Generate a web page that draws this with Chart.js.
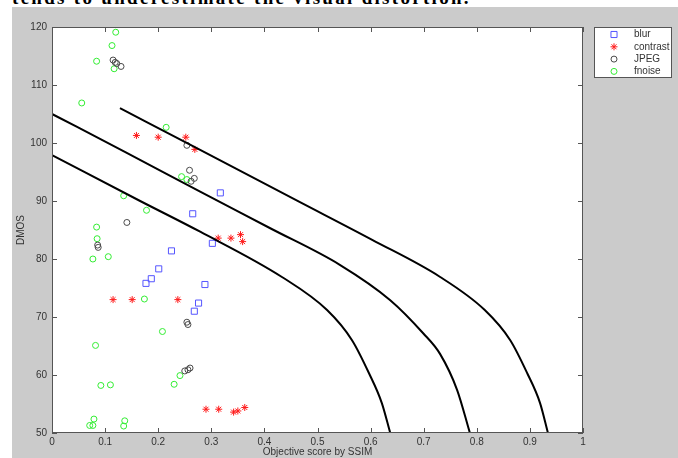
<!DOCTYPE html>
<html>
<head>
<meta charset="utf-8">
<script src="https://cdn.jsdelivr.net/npm/chart.js@4.4.1/dist/chart.umd.min.js"></script>
<style>
  html, body { margin: 0; padding: 0; background: #fff; }
  #wrap { position: relative; width: 678px; height: 458px; overflow: hidden; }
  #caption { position: absolute; left: 12px; top: -13px; font: bold 19px "Liberation Serif", serif; letter-spacing: 2.3px; white-space: nowrap; color: #000; }
  #fig { position: absolute; left: 12px; top: 7px; right: 0; bottom: 0; background: #cbcbcb; }
  canvas { position: absolute; left: 0; top: 0; }
</style>
</head>
<body>
<div id="wrap">
  <div id="caption">tends to underestimate the visual distortion.</div>
  <div id="fig"></div>
  <canvas id="grafico" width="678" height="458"></canvas>
</div>
<script>
// values
const xTickLabels = ['0', '0.1', '0.2', '0.3', '0.4', '0.5', '0.6', '0.7', '0.8', '0.9', '1'];
const yTickLabels = ['50', '60', '70', '80', '90', '100', '110', '120'];

const blurX = [0.317, 0.265, 0.302, 0.225, 0.201, 0.187, 0.177, 0.288, 0.276, 0.268];
const blurY = [91.4, 87.8, 82.7, 81.4, 78.3, 76.6, 75.8, 75.6, 72.4, 71.0];

const contrastX = [0.159, 0.200, 0.252, 0.269, 0.313, 0.337, 0.355, 0.359, 0.115, 0.151, 0.237, 0.290, 0.314, 0.342, 0.350, 0.363];
const contrastY = [101.3, 101.0, 101.0, 98.9, 83.6, 83.6, 84.2, 83.0, 73.0, 73.0, 73.0, 54.1, 54.1, 53.6, 53.8, 54.4];

const jpegX = [0.115, 0.119, 0.122, 0.130, 0.254, 0.259, 0.262, 0.268, 0.141, 0.086, 0.087, 0.254, 0.256, 0.250, 0.256, 0.260];
const jpegY = [114.3, 113.9, 113.7, 113.2, 99.6, 95.3, 93.4, 93.9, 86.3, 82.4, 82.0, 69.1, 68.7, 60.7, 60.9, 61.2];

const fnoiseX = [0.120, 0.113, 0.084, 0.117, 0.056, 0.215, 0.244, 0.254, 0.135, 0.178, 0.084, 0.085, 0.077, 0.106, 0.174, 0.208, 0.082, 0.092, 0.110, 0.230, 0.241, 0.079, 0.071, 0.077, 0.137, 0.135];
const fnoiseY = [119.1, 116.8, 114.1, 112.8, 106.9, 102.7, 94.2, 93.7, 90.9, 88.4, 85.5, 83.5, 80.0, 80.4, 73.1, 67.5, 65.1, 58.2, 58.3, 58.4, 59.9, 52.4, 51.3, 51.3, 52.1, 51.2];

// the three black curves
const upperX = [0.128, 0.279, 0.467, 0.603, 0.731, 0.815, 0.863, 0.895, 0.919, 0.934];
const upperY = [106.0, 98.8, 89.8, 83.3, 76.9, 71.2, 66.0, 60.3, 55.2, 50];
const middleX = [0, 0.139, 0.279, 0.411, 0.542, 0.637, 0.699, 0.731, 0.763, 0.787];
const middleY = [105.0, 98.4, 91.6, 85.3, 79.0, 72.9, 67.2, 63.6, 57.4, 50];
const lowerX = [0, 0.166, 0.279, 0.433, 0.518, 0.565, 0.597, 0.621, 0.637];
const lowerY = [97.9, 90.0, 84.7, 76.9, 71.2, 66.0, 60.3, 55.2, 50];

const pts = (xs, ys) => xs.map((x, i) => ({ x: x, y: ys[i] }));
const FONT = '"Liberation Sans", Arial, sans-serif';
const TXT = '#333';

function marker(label, xs, ys, style, color, radius) {
  return {
    label: label,
    data: pts(xs, ys),
    pointStyle: style,
    pointRadius: radius,
    pointBorderColor: color,
    pointBackgroundColor: 'rgba(0,0,0,0)',
    pointBorderWidth: 1,
    showLine: false
  };
}

function curve(xs, ys) {
  return {
    label: '',
    data: pts(xs, ys),
    showLine: true,
    borderColor: '#000',
    borderWidth: 2,
    pointRadius: 0,
    cubicInterpolationMode: 'monotone'
  };
}

const markers = [
  marker('blur', blurX, blurY, 'rect', '#5555ff', 4.3),
  marker('contrast', contrastX, contrastY, 'star', '#ff1a1a', 3.5),
  marker('JPEG', jpegX, jpegY, 'circle', '#4a4a4a', 3),
  marker('fnoise', fnoiseX, fnoiseY, 'circle', '#33ee33', 3)
];

// white plot area, box, inward ticks on every side and the boxed legend
const matlabAxes = {
  id: 'matlabAxes',
  beforeDraw(chart) {
    const { ctx, chartArea: a } = chart;
    ctx.save();
    ctx.fillStyle = '#fff';
    ctx.fillRect(a.left, a.top, a.right - a.left, a.bottom - a.top);
    ctx.restore();
  },
  afterDraw(chart) {
    const { ctx, chartArea: a, scales } = chart;
    ctx.save();
    ctx.strokeStyle = '#555';
    ctx.lineWidth = 1;
    ctx.strokeRect(a.left + 0.5, a.top + 0.5, a.right - a.left - 1, a.bottom - a.top - 1);
    ctx.beginPath();
    scales.x.ticks.forEach(t => {
      const px = Math.round(scales.x.getPixelForValue(t.value)) + 0.5;
      ctx.moveTo(px, a.bottom); ctx.lineTo(px, a.bottom - 5);
      ctx.moveTo(px, a.top); ctx.lineTo(px, a.top + 5);
    });
    scales.y.ticks.forEach(t => {
      const py = Math.round(scales.y.getPixelForValue(t.value)) + 0.5;
      ctx.moveTo(a.left, py); ctx.lineTo(a.left + 5, py);
      ctx.moveTo(a.right, py); ctx.lineTo(a.right - 5, py);
    });
    ctx.stroke();

    // legend
    const lx = a.right + 11, ly = a.top, lw = 78, lh = 51;
    ctx.fillStyle = '#fff';
    ctx.fillRect(lx, ly, lw, lh);
    ctx.strokeStyle = '#555';
    ctx.strokeRect(lx + 0.5, ly + 0.5, lw - 1, lh - 1);
    ctx.font = '10px ' + FONT;
    ctx.textBaseline = 'middle';
    markers.forEach((m, i) => {
      const y = ly + 7.5 + i * 12.3;
      ctx.strokeStyle = m.pointBorderColor;
      ctx.fillStyle = 'rgba(0,0,0,0)';
      ctx.lineWidth = 1;
      Chart.helpers.drawPoint(ctx, { pointStyle: m.pointStyle, radius: m.pointRadius, rotation: 0, borderWidth: 1 }, lx + 20, y);
      ctx.fillStyle = TXT;
      ctx.fillText(m.label, lx + 40, y);
    });
    ctx.restore();
  }
};

new Chart(document.getElementById('grafico').getContext('2d'), {
  type: 'scatter',
  data: {
    datasets: [curve(upperX, upperY), curve(middleX, middleY), curve(lowerX, lowerY)].concat(markers)
  },
  options: {
    responsive: false,
    animation: false,
    layout: { padding: { top: 27, right: 95, left: 0, bottom: 0 } },
    plugins: {
      legend: { display: false },
      tooltip: { enabled: false }
    },
    scales: {
      x: {
        type: 'linear',
        min: 0,
        max: 1,
        grid: { display: false, drawTicks: false },
        border: { display: false },
        ticks: {
          stepSize: 0.1,
          padding: 3,
          color: TXT,
          font: { family: FONT, size: 10 },
          maxRotation: 0,
          callback: (v, i) => xTickLabels[i]
        },
        title: {
          display: true,
          text: 'Objective score by SSIM',
          color: TXT,
          font: { family: FONT, size: 10 },
          padding: { top: 0, bottom: 0 }
        },
        afterFit(scale) { scale.height = 25; }
      },
      y: {
        min: 50,
        max: 120,
        grid: { display: false, drawTicks: false },
        border: { display: false },
        ticks: {
          stepSize: 10,
          padding: 5,
          color: TXT,
          font: { family: FONT, size: 10 },
          callback: (v, i) => yTickLabels[i]
        },
        title: {
          display: true,
          text: 'DMOS',
          color: TXT,
          font: { family: FONT, size: 10 },
          padding: { top: 15, bottom: 0 }
        },
        afterFit(scale) { scale.width = 52; }
      }
    }
  },
  plugins: [matlabAxes]
});
</script>
</body>
</html>
